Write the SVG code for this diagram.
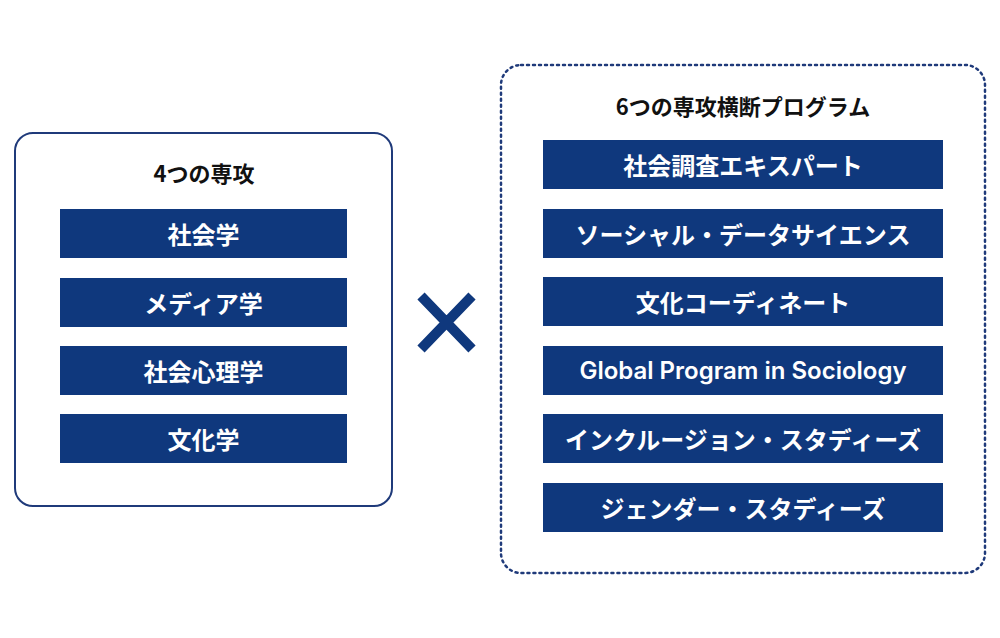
<svg xmlns="http://www.w3.org/2000/svg" width="1000" height="638" viewBox="0 0 1000 638">
<style>
.bar{fill:#0f387d}
.bt{fill:#fff;font-family:"Noto Sans CJK JP","Noto Sans",sans-serif;font-weight:700;font-size:24px;text-anchor:middle;dominant-baseline:central}
.tt{fill:#111;font-family:"Noto Sans CJK JP","Noto Sans",sans-serif;font-weight:700;font-size:22px;text-anchor:middle;dominant-baseline:central}
</style>
<rect width="1000" height="638" fill="#fff"/>
<g id="majors">
<rect x="15" y="133" width="377" height="373" rx="18" fill="none" stroke="#1f3a7a" stroke-width="2"/>
<text class="tt" x="204" y="172">4つの専攻</text>
</g>
<g id="m1"><rect class="bar" x="60" y="209" width="287" height="49"/><text class="bt" x="203.5" y="233.5">社会学</text></g>
<g id="m2"><rect class="bar" x="60" y="278" width="287" height="49"/><text class="bt" x="203.5" y="302.5">メディア学</text></g>
<g id="m3"><rect class="bar" x="60" y="346" width="287" height="49"/><text class="bt" x="203.5" y="370.5">社会心理学</text></g>
<g id="m4"><rect class="bar" x="60" y="414" width="287" height="49"/><text class="bt" x="203.5" y="438.5">文化学</text></g>
<g id="cross"><path d="M421 296 L472 349 M472 296 L421 349" stroke="#0f387d" stroke-width="10"/></g>
<g id="programs">
<rect x="501" y="65" width="484" height="508" rx="20" fill="none" stroke="#1f3a7a" stroke-width="2.5" stroke-dasharray="2 4" stroke-linecap="round"/>
<text class="tt" x="743" y="105">6つの専攻横断プログラム</text>
</g>
<g id="p1"><rect class="bar" x="543" y="140" width="400" height="49"/><text class="bt" x="743" y="164.5">社会調査エキスパート</text></g>
<g id="p2"><rect class="bar" x="543" y="209" width="400" height="49"/><text class="bt" x="743" y="233.5">ソーシャル・データサイエンス</text></g>
<g id="p3"><rect class="bar" x="543" y="277" width="400" height="49"/><text class="bt" x="743" y="301.5">文化コーディネート</text></g>
<g id="p4"><rect class="bar" x="543" y="346" width="400" height="49"/><text class="bt" x="743" y="370.5" style="font-family:Inter,'Noto Sans',sans-serif;font-weight:600">Global Program in Sociology</text></g>
<g id="p5"><rect class="bar" x="543" y="414" width="400" height="49"/><text class="bt" x="743" y="438.5">インクルージョン・スタディーズ</text></g>
<g id="p6"><rect class="bar" x="543" y="483" width="400" height="49"/><text class="bt" x="743" y="507.5">ジェンダー・スタディーズ</text></g>
<g id="connectors"></g>
</svg>
